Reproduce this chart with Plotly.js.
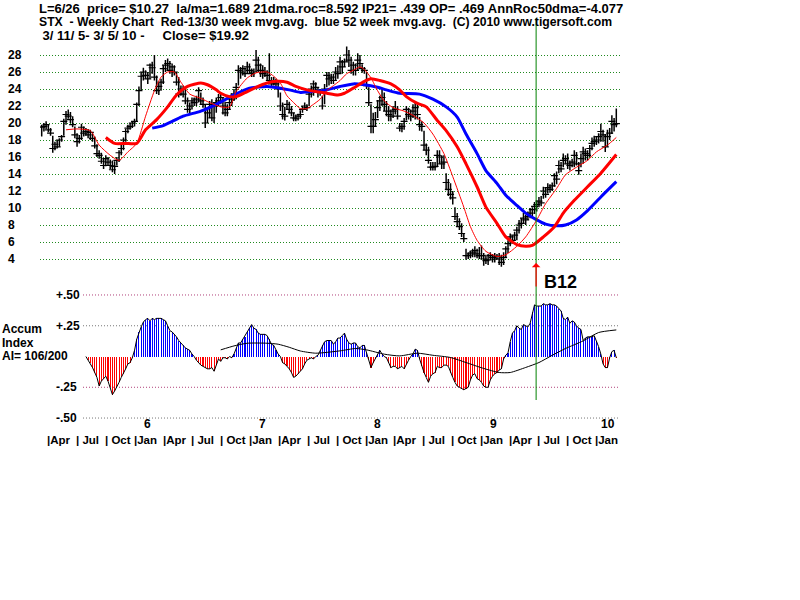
<!DOCTYPE html>
<html><head><meta charset="utf-8">
<script src="https://cdn.plot.ly/plotly-3.0.1.min.js"></script>
<style>html,body{margin:0;padding:0;background:#fff}#chart{width:800px;height:600px}</style>
</head><body><div id="chart"></div>
<script>
// ---------------- DATA ----------------
const startDate = [2005, 2, 11]; // first weekly bar: 3/11/05
const high = [
19.8,20.0,20.2,19.8,19.4,18.5,17.8,18.0,18.2,18.6,
20.5,21.4,21.6,21.3,20.8,19.6,18.8,18.6,19.9,19.6,
19.4,19.3,19.2,18.8,18.4,17.5,16.8,16.5,15.8,16.2,
16.0,15.7,15.6,15.5,16.0,16.8,17.4,18.3,19.3,19.8,
20.0,20.2,20.5,22.4,24.3,26.0,26.5,26.2,26.0,27.0,
27.2,28.0,25.6,24.8,25.2,26.8,27.4,27.6,27.3,27.0,
26.8,26.0,25.4,24.4,24.4,24.0,23.0,22.4,23.0,23.0,
23.2,24.2,23.6,23.0,22.2,21.6,22.6,22.8,22.4,23.0,
23.4,23.5,23.0,22.5,22.2,23.0,23.5,24.0,24.7,26.8,
26.6,26.8,26.5,27.2,27.0,26.4,26.4,28.6,27.8,27.0,
26.8,26.6,26.2,28.2,25.4,25.4,25.2,24.8,23.6,22.4,
21.9,22.7,22.5,22.0,21.2,21.0,21.1,21.5,22.0,22.4,
22.2,23.7,24.4,25.0,24.8,24.2,24.0,23.2,24.6,26.0,
26.0,25.8,25.8,26.6,26.8,27.8,27.4,27.6,29.0,28.6,
27.8,27.2,27.0,28.2,28.0,26.9,26.6,26.0,24.2,22.2,
21.2,21.3,22.7,23.2,24.0,23.6,22.6,22.0,21.6,22.0,
22.6,22.0,20.0,20.0,20.6,22.0,21.8,21.6,22.2,22.6,
22.2,20.7,20.2,19.1,17.6,17.2,15.4,15.4,15.4,16.8,
16.8,16.2,16.2,14.1,13.4,12.9,12.0,10.1,9.4,8.8,
8.2,7.0,5.2,4.8,5.0,5.2,5.5,5.2,5.4,5.6,
4.7,4.5,4.6,4.8,4.6,4.7,4.6,4.7,4.5,4.8,
5.5,6.2,7.0,6.8,7.2,7.8,8.6,8.8,9.4,9.2,
9.6,10.0,10.1,10.7,10.9,11.3,11.4,12.5,12.4,12.9,
12.8,13.0,14.1,14.3,15.6,15.4,16.4,16.2,16.4,15.6,
15.8,16.8,16.6,15.4,16.4,17.2,17.0,16.8,17.4,18.3,
18.5,18.4,18.8,19.9,19.2,18.7,19.2,19.4,20.9,20.6,21.7];
const low = [
18.4,19.0,19.3,18.9,18.5,16.5,16.8,17.0,17.2,17.8,
18.5,19.8,20.5,20.0,19.5,18.2,17.2,17.6,18.0,18.4,
18.5,18.2,18.0,17.8,17.0,16.0,15.8,15.2,14.6,14.9,
15.0,14.6,14.2,14.0,15.0,15.4,16.2,16.8,17.8,18.8,
19.2,19.4,19.6,20.2,22.0,23.8,25.0,25.2,24.6,25.2,
25.8,25.0,23.4,23.3,23.8,24.6,26.0,26.2,25.8,25.4,
25.6,24.4,23.0,23.2,23.0,22.2,21.2,21.0,21.6,22.0,
22.0,22.4,22.2,21.8,19.4,20.0,20.6,20.2,20.0,21.2,
22.0,22.2,21.0,20.8,20.8,21.6,22.0,22.6,22.8,24.4,
25.2,25.6,25.4,25.8,25.8,25.4,25.4,26.0,26.0,25.4,
25.2,25.4,25.0,24.6,24.2,24.4,24.2,23.0,21.4,20.4,
20.3,21.6,21.2,20.8,20.2,20.2,20.3,20.5,21.2,21.6,
21.4,22.0,23.0,23.2,23.6,23.0,23.2,21.6,22.2,24.2,
24.4,24.6,24.6,25.0,25.2,25.8,25.8,26.6,27.2,26.6,
25.8,25.6,25.6,26.2,26.4,25.9,25.8,24.0,22.0,18.8,
18.8,19.6,20.6,21.4,22.0,21.4,20.8,20.2,20.2,20.6,
21.0,20.4,19.0,18.9,19.2,20.3,20.4,20.2,20.6,20.4,
20.4,19.1,19.0,16.8,16.2,15.2,14.4,14.4,14.4,14.8,
15.2,14.6,14.6,12.1,11.4,11.0,10.4,8.6,7.8,7.4,
6.6,6.0,3.9,4.0,4.1,4.2,4.2,4.1,4.0,4.0,
3.2,3.4,3.3,3.9,3.6,3.6,4.0,3.3,3.1,3.3,
4.1,4.7,5.5,5.8,6.2,6.2,7.0,7.6,8.2,8.0,
8.6,8.8,8.8,9.3,9.6,10.1,10.2,11.1,11.2,11.7,
11.8,12.0,12.5,12.8,14.1,14.2,14.8,15.2,14.6,14.4,
14.8,14.8,15.0,13.9,14.8,15.2,15.6,15.6,16.0,16.8,
17.2,17.4,17.6,17.8,17.8,16.6,17.2,18.0,18.7,19.0,19.5];
const close = [
19.5,19.6,19.8,19.2,18.8,17.0,17.5,17.2,18.0,18.4,
20.2,21.0,20.8,20.4,19.8,18.6,17.8,18.2,19.5,18.8,
19.0,18.6,18.9,18.2,17.3,16.4,16.2,15.5,15.0,15.8,
15.4,15.0,14.5,14.9,15.6,16.5,17.0,18.0,19.0,19.4,
19.6,20.0,20.2,22.2,23.8,25.5,26.0,25.6,25.2,26.8,
26.5,25.4,23.8,24.3,24.8,26.4,26.8,27.0,26.2,26.6,
26.0,24.8,23.4,24.0,23.4,22.6,21.6,22.0,22.6,22.4,
22.8,23.8,22.6,22.2,20.0,21.2,22.2,20.6,22.0,22.4,
22.6,23.0,22.0,21.2,21.6,22.4,22.8,23.4,24.2,26.2,
26.0,26.4,25.8,26.6,26.2,25.8,26.0,27.4,26.8,26.2,
25.8,26.0,25.6,25.0,24.6,24.8,24.6,24.0,22.0,21.0,
20.8,22.2,21.6,21.2,20.6,20.5,20.8,21.0,21.6,22.0,
21.8,23.4,24.0,24.6,24.2,23.6,23.6,22.0,24.0,25.6,
25.2,25.4,25.0,26.0,25.8,27.2,26.6,27.2,28.0,27.4,
26.2,26.8,26.2,27.4,27.0,26.4,26.2,24.4,22.4,19.6,
19.6,20.4,21.8,22.6,23.0,22.2,21.4,21.0,20.8,21.4,
21.6,20.8,19.4,19.6,20.2,21.6,21.0,20.8,21.4,21.8,
21.0,19.8,19.6,17.4,16.8,15.6,14.8,14.8,14.9,16.2,
16.0,15.2,15.4,13.0,12.2,11.6,11.2,9.0,8.4,7.8,
7.0,6.4,4.4,4.4,4.6,4.8,5.0,4.6,4.4,4.4,
4.0,3.8,3.9,4.4,4.2,4.0,4.3,4.0,3.6,4.2,
5.2,5.8,6.6,6.2,6.8,7.4,8.0,8.2,8.8,8.6,
9.0,9.4,9.8,10.2,10.4,10.8,10.6,12.0,11.6,12.4,
12.2,12.6,13.8,13.4,15.0,14.6,15.6,15.8,15.2,15.0,
15.4,16.2,15.2,14.4,15.8,16.6,16.4,16.2,17.0,17.6,
17.8,18.0,18.4,19.0,18.6,17.2,18.4,18.8,20.2,19.8,19.92];

// moving averages (week index, value)
const ma13Weeks = [11,16,22,26,31,35,39,43,47,51,54,57,60,63,67,72,76,81,85,88,93,97,102,105,108,111,114,117,120,123,126,129,132,135,138,141,144,146,149,152,155,159,164,168,173,177,182,186,191,194,197,201,206,210,215,219,224,228,233,237,242,247,251,256,260];
const ma13Vals = [19.2,19.3,19.1,17.4,16.2,15.6,16.6,17.6,20.8,23.8,25.4,26.0,26.0,24.8,23.4,22.9,22.4,21.9,21.9,23.7,25.3,25.9,26.0,25.5,24.7,23.2,22.4,21.7,21.7,22.2,22.8,23.8,24.4,25.0,25.8,26.2,26.6,26.3,25.3,23.8,22.6,21.8,21.4,20.9,20.0,18.7,16.4,13.7,10.1,7.8,6.2,4.9,4.3,4.5,5.5,6.6,8.6,10.5,12.3,13.9,14.8,15.6,16.6,17.4,18.3];
const ma30Weeks = [29,33,38,43,47,52,57,61,66,72,75,79,81,85,88,93,97,102,106,111,115,120,124,129,134,137,141,146,149,153,158,162,165,170,174,179,183,188,192,197,201,206,210,215,219,222,227,232,236,241,247,253,260];
const ma30Vals = [18.3,17.6,17.6,17.6,19.2,20.4,21.9,23.3,24.3,24.7,24.5,23.9,23.5,23.1,23.1,23.7,24.2,24.7,24.9,24.8,24.3,23.9,23.7,23.5,23.3,23.5,24.1,24.9,25.2,25.0,24.6,23.9,23.1,22.3,21.9,20.3,19.1,17.2,15.2,12.5,10.1,8.2,6.6,5.7,5.5,5.6,6.6,7.8,9.4,10.9,12.5,14.1,16.3];
const ma52Weeks = [50,55,60,64,72,79,87,94,102,108,112,117,123,129,135,141,146,152,156,162,171,177,183,188,192,197,201,206,210,215,219,224,228,233,237,242,247,253,260];
const ma52Vals = [19.4,19.7,20.3,20.8,21.4,22.2,23.3,24.1,24.3,24.1,23.9,23.6,23.7,23.9,24.3,24.6,24.5,24.2,23.9,23.5,23.4,22.8,21.9,20.7,18.7,16.4,14.4,12.9,11.5,10.3,9.4,8.6,8.1,7.9,8.0,8.6,9.7,11.3,13.1];

// Accumulation index (weekly), first 20 weeks not computed
const aiVals = [
null,null,null,null,null,null,null,null,null,null,
null,null,null,null,null,null,null,null,null,null,
0.0,-0.03,-0.05,-0.09,-0.13,-0.17,-0.24,-0.20,-0.18,-0.16,
-0.20,-0.25,-0.31,-0.28,-0.25,-0.21,-0.17,-0.14,-0.10,-0.06,
-0.05,-0.01,0.05,0.14,0.20,0.24,0.28,0.30,0.31,0.29,
0.31,0.30,0.31,0.31,0.31,0.30,0.29,0.25,0.21,0.20,
0.18,0.16,0.13,0.11,0.09,0.07,0.06,0.05,0.02,0.0,
-0.03,-0.05,-0.07,-0.08,-0.09,-0.10,-0.10,-0.09,-0.12,-0.06,
-0.02,-0.04,-0.01,-0.01,-0.02,0.0,-0.01,0.02,0.07,0.11,
0.11,0.14,0.16,0.20,0.23,0.26,0.23,0.22,0.19,0.18,
0.18,0.18,0.17,0.14,0.10,0.09,0.05,0.02,0.0,-0.05,
-0.06,-0.08,-0.10,-0.13,-0.17,-0.16,-0.14,-0.12,-0.10,-0.06,
-0.03,-0.02,-0.01,-0.02,0.0,0.01,0.05,0.09,0.12,0.13,
0.13,0.13,0.10,0.12,0.15,0.15,0.17,0.19,0.14,0.11,
0.10,0.11,0.11,0.08,0.07,0.09,0.09,0.03,-0.02,-0.09,
-0.05,-0.02,0.02,0.05,0.02,0.0,-0.01,-0.05,-0.09,-0.08,
-0.08,-0.10,-0.09,-0.08,-0.10,-0.06,-0.03,0.0,0.02,0.06,
0.05,-0.02,-0.08,-0.13,-0.17,-0.21,-0.16,-0.14,-0.13,-0.08,
-0.09,-0.09,-0.07,-0.07,-0.08,-0.13,-0.17,-0.21,-0.24,-0.25,
-0.26,-0.27,-0.26,-0.25,-0.19,-0.15,-0.14,-0.18,-0.19,-0.21,
-0.24,-0.25,-0.25,-0.19,-0.16,-0.14,-0.13,-0.11,-0.10,-0.02,
0.01,0.03,0.12,0.19,0.21,0.25,0.23,0.22,0.26,0.25,
0.24,0.27,0.36,0.42,0.41,0.41,0.41,0.43,0.42,0.42,
0.43,0.42,0.42,0.41,0.39,0.37,0.31,0.30,0.32,0.27,
0.29,0.28,0.25,0.23,0.22,0.13,0.15,0.16,0.16,0.16,
0.17,0.13,0.08,0.02,-0.06,-0.09,-0.09,-0.01,0.04,0.05,-0.01];
const aiMaWeeks = [81,87,93,102,107,112,117,124,135,142,147,155,162,170,177,185,192,200,207,212,219,225,231,237,245,252,260];
const aiMaVals = [0.054,0.086,0.108,0.108,0.10,0.075,0.045,0.027,0.046,0.065,0.054,0.019,0.005,0.027,0.01,-0.008,-0.049,-0.097,-0.13,-0.13,-0.089,-0.049,0.01,0.065,0.127,0.195,0.216];

// ticks and labels
const priceTicks = [4,6,8,10,12,14,16,18,20,22,24,26,28];
const aiTicks = [0.5,0.25,-0.25,-0.5];
const aiTickText = ['+.50','+.25','-.25','-.50'];
const quarterDates = ['2005-04-01','2005-07-01','2005-10-01','2006-01-01','2006-04-01','2006-07-01','2006-10-01','2007-01-01','2007-04-01','2007-07-01','2007-10-01','2008-01-01','2008-04-01','2008-07-01','2008-10-01','2009-01-01','2009-04-01','2009-07-01','2009-10-01','2010-01-01'];
const quarterText = ['|Apr','| Jul','| Oct','|Jan','|Apr','| Jul','| Oct','|Jan','|Apr','| Jul','| Oct','|Jan','|Apr','| Jul','| Oct','|Jan','|Apr','| Jul','| Oct','|Jan'];
const yearDates = ['2006-01-01','2007-01-01','2008-01-01','2009-01-01','2010-01-01'];
const yearText = ['6','7','8','9','10'];
const headerLines = [
  'L=6/26  price= $10.27  la/ma=1.689 21dma.roc=8.592 IP21= .439 OP= .469 AnnRoc50dma=-4.077',
  'STX  - Weekly Chart  Red-13/30 week mvg.avg.  blue 52 week mvg.avg.  (C) 2010 www.tigersoft.com',
  ' 3/ 11/ 5- 3/ 5/ 10 -     Close= $19.92'
];
const aiLabels = ['Accum','Index','AI= 106/200'];
const signalDate = '2009-06-24';
const signalText = 'B12';

// ---------------- BUILD ----------------
const DAY = 86400000;
const t0 = Date.UTC(startDate[0], startDate[1], startDate[2]);
const weekDate = i => new Date(t0 + i * 7 * DAY).toISOString().slice(0, 10);
const dates = close.map((_, i) => weekDate(i));
const W = 800, Hh = 600;
const py = px => 1 - px / Hh;
const pxPerDay = 2.21 / 7, x0px = 41.7, plotL = 40, plotR = 620;
const fmt = ms => new Date(ms).toISOString().replace('T', ' ').slice(0, 19);
const xRange = [fmt(t0 - (x0px - plotL) / pxPerDay * DAY), fmt(t0 + (plotR - x0px) / pxPerDay * DAY)];
const nb = s => s.replace(/ /g, '\u00a0');
const FONT = 'Liberation Sans, Arial, sans-serif';
const bold = (size, color) => ({family: FONT, size: size, color: color || '#000', weight: 'bold'});

const traces = [];
traces.push({
  type: 'scatter', mode: 'markers', x: dates, y: close, xaxis: 'x', yaxis: 'y',
  marker: {symbol: 'line-ew', size: 5, line: {width: 1.2, color: '#000'}},
  error_y: {type: 'data', symmetric: false,
    array: close.map((c, i) => high[i] - c), arrayminus: close.map((c, i) => c - low[i]),
    width: 0, thickness: 1.5, color: '#000'},
  hoverinfo: 'skip', showlegend: false
});
traces.push({type: 'scatter', mode: 'lines', x: ma52Weeks.map(weekDate), y: ma52Vals, xaxis: 'x', yaxis: 'y',
  line: {color: '#0000ff', width: 3, shape: 'spline', smoothing: 0.6}, showlegend: false});
traces.push({type: 'scatter', mode: 'lines', x: ma30Weeks.map(weekDate), y: ma30Vals, xaxis: 'x', yaxis: 'y',
  line: {color: '#ff0000', width: 3, shape: 'spline', smoothing: 0.6}, showlegend: false});
traces.push({type: 'scatter', mode: 'lines', x: ma13Weeks.map(weekDate), y: ma13Vals, xaxis: 'x', yaxis: 'y',
  line: {color: '#ff0000', width: 1, shape: 'spline', smoothing: 0.6}, showlegend: false});
traces.push({type: 'bar', x: dates, y: aiVals, xaxis: 'x2', yaxis: 'y2', width: 3.4 * DAY,
  marker: {color: aiVals.map(v => (v !== null && v >= 0) ? '#0000ff' : '#ff0000'), line: {width: 0}},
  showlegend: false});
traces.push({type: 'scatter', mode: 'lines', x: dates, y: aiVals, xaxis: 'x2', yaxis: 'y2',
  line: {color: '#000', width: 1}, showlegend: false});
traces.push({type: 'scatter', mode: 'lines', x: aiMaWeeks.map(weekDate), y: aiMaVals, xaxis: 'x2', yaxis: 'y2',
  line: {color: '#000', width: 1, shape: 'spline', smoothing: 0.6}, showlegend: false});

const annotations = [];
const headerY = [8.5, 21.5, 35.5], headerX = [37, 37, 37], headerSize = [13, 12.2, 13];
headerLines.forEach((t, k) => annotations.push({text: nb(t), xref: 'paper', yref: 'paper',
  x: headerX[k] / W, y: py(headerY[k]), xanchor: 'left', yanchor: 'middle', showarrow: false, font: bold(headerSize[k])}));
priceTicks.forEach(v => annotations.push({text: String(v), xref: 'paper', yref: 'y', x: 6 / W, y: v,
  xanchor: 'left', yanchor: 'middle', showarrow: false, font: bold(12)}));
aiTicks.forEach((v, k) => annotations.push({text: aiTickText[k], xref: 'paper', yref: 'y2', x: 54 / W, y: v,
  xanchor: 'left', yanchor: 'middle', showarrow: false, font: bold(12)}));
const aiLabelY = [329, 342.5, 356];
aiLabels.forEach((t, k) => annotations.push({text: nb(t), xref: 'paper', yref: 'paper', x: 1 / W, y: py(aiLabelY[k]),
  xanchor: 'left', yanchor: 'middle', showarrow: false, font: bold(12), borderpad: 0}));
yearDates.forEach((d, k) => annotations.push({text: yearText[k], xref: 'x2', yref: 'paper', x: d, y: py(423.5),
  xanchor: 'center', yanchor: 'middle', xshift: 12, showarrow: false, font: bold(12), borderpad: 0}));
quarterDates.forEach((d, k) => annotations.push({text: nb(quarterText[k]), xref: 'x2', yref: 'paper', x: d, y: py(440),
  xanchor: 'left', yanchor: 'middle', xshift: -2, showarrow: false, font: bold(11.5), borderpad: 0}));
annotations.push({text: '', xref: 'x', yref: 'paper', x: signalDate, y: py(263), ax: 0, ay: 25,
  showarrow: true, arrowcolor: '#ff0000', arrowwidth: 1.2, arrowhead: 1, arrowsize: 1.2, standoff: 0});
annotations.push({text: signalText, xref: 'x', yref: 'paper', x: signalDate, y: py(282), xanchor: 'left',
  yanchor: 'middle', xshift: 6, showarrow: false, font: bold(18)});

const shapes = [];
const aiGridColors = ['#b0407a', '#777777', '#b0407a', '#777777'];
aiTicks.forEach((v, k) => shapes.push({type: 'line', xref: 'paper', yref: 'y2', x0: 83 / W, x1: 620 / W, y0: v, y1: v,
  line: {color: aiGridColors[k], width: 1, dash: '1px,2px'}, layer: 'below'}));
shapes.push({type: 'line', xref: 'x', yref: 'paper', x0: signalDate, x1: signalDate, y0: py(400), y1: py(18),
  line: {color: '#008000', width: 1}, layer: 'above'});

const layout = {
  width: W, height: Hh, margin: {l: 0, r: 0, t: 0, b: 0, pad: 0, autoexpand: false},
  paper_bgcolor: '#fff', plot_bgcolor: '#fff', showlegend: false, bargap: 0,
  xaxis: {type: 'date', domain: [plotL / W, plotR / W], range: xRange, anchor: 'y',
    showticklabels: false, showgrid: false, zeroline: false, showline: false, ticks: ''},
  xaxis2: {type: 'date', domain: [plotL / W, plotR / W], range: xRange, anchor: 'y2', matches: 'x',
    showticklabels: false, showgrid: false, zeroline: false, showline: false, ticks: ''},
  yaxis: {domain: [py(267.5), py(41.4)], range: [3, 29.6], anchor: 'x', tickvals: priceTicks,
    showticklabels: false, showgrid: true, gridcolor: '#1f8a1f', gridwidth: 1, griddash: '1px,2px',
    zeroline: false, showline: false, ticks: ''},
  yaxis2: {domain: [py(420.5), py(287.6)], range: [-0.52, 0.56], anchor: 'x2',
    showticklabels: false, showgrid: false, zeroline: false, showline: false, ticks: ''},
  annotations: annotations, shapes: shapes
};
Plotly.newPlot('chart', traces, layout, {displayModeBar: false, staticPlot: true});
</script>
</body></html>
